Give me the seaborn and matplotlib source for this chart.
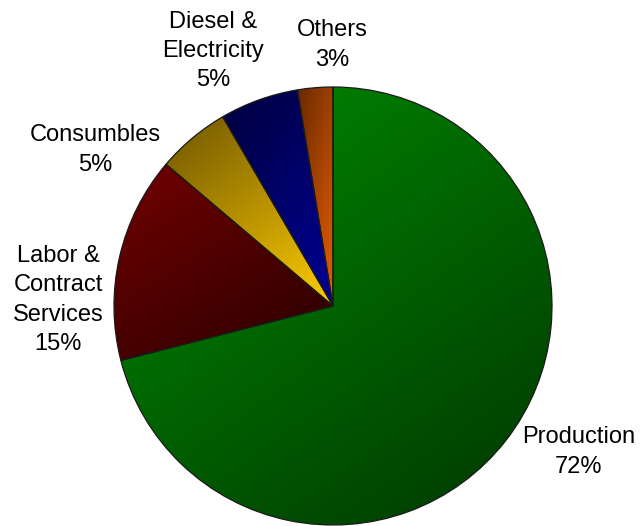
import numpy as np
import matplotlib
matplotlib.use("Agg")
import matplotlib.pyplot as plt
import seaborn as sns

# ---- data ----
categories = ["Production", "Labor &\nContract\nServices", "Consumbles",
              "Diesel &\nElectricity", "Others"]
shares = [71.0, 15.2, 5.4, 5.8, 2.6]
pct_labels = ["72%", "15%", "5%", "5%", "3%"]

# ---- style ----
grad_start = [(0, 140, 0), (115, 0, 0), (110, 85, 0), (0, 0, 60), (105, 40, 0)]
grad_end = [(0, 55, 0), (40, 0, 0), (255, 205, 0), (0, 0, 150), (230, 95, 0)]
# label centres in pixels (x from left, y from top)
label_px = [(579, 452), (58, 300), (95, 150), (213, 51), (332, 45)]

sns.set_style("white")
plt.rcParams["font.family"] = ["Liberation Sans", "DejaVu Sans"]

W, H, DPI = 641, 526, 100
fig = plt.figure(figsize=(W / DPI, H / DPI), dpi=DPI)
ax = fig.add_axes([0, 0, 1, 1])

wedges, _ = ax.pie(shares, startangle=90, counterclock=False,
                   wedgeprops=dict(edgecolor="#1a1a1a", linewidth=0.9))

# gradient fills clipped to each wedge
for w, c0, c1 in zip(wedges, grad_start, grad_end):
    ext = w.get_path().get_extents()
    n = 200
    xx, yy = np.meshgrid(np.linspace(0, 1, n), np.linspace(0, 1, n))
    t = ((0.7 * xx + yy) / 1.7)[..., None]
    a = np.array(c0) / 255.0
    b = np.array(c1) / 255.0
    img = a * (1 - t) + b * t
    im = ax.imshow(img, extent=(ext.x0, ext.x1, ext.y0, ext.y1), origin="upper",
                   interpolation="bilinear", zorder=1, aspect="auto")
    im.set_clip_path(w)
    w.set_facecolor("none")
    w.set_zorder(3)

# axis limits: centre at (333, 306) px, radius 219 px
cx, cy, r = 333, 306, 219
ax.set_xlim(-cx / r, (W - cx) / r)
ax.set_ylim(-(H - cy) / r, cy / r)
ax.set_aspect("auto")
ax.axis("off")

for cat, pl, (px, py) in zip(categories, pct_labels, label_px):
    ax.text(px / W, 1 - py / H, f"{cat}\n{pl}", transform=ax.transAxes,
            ha="center", va="center", multialignment="center",
            fontsize=17, color="black", linespacing=1.42)

fig.savefig("out.png", dpi=DPI)
